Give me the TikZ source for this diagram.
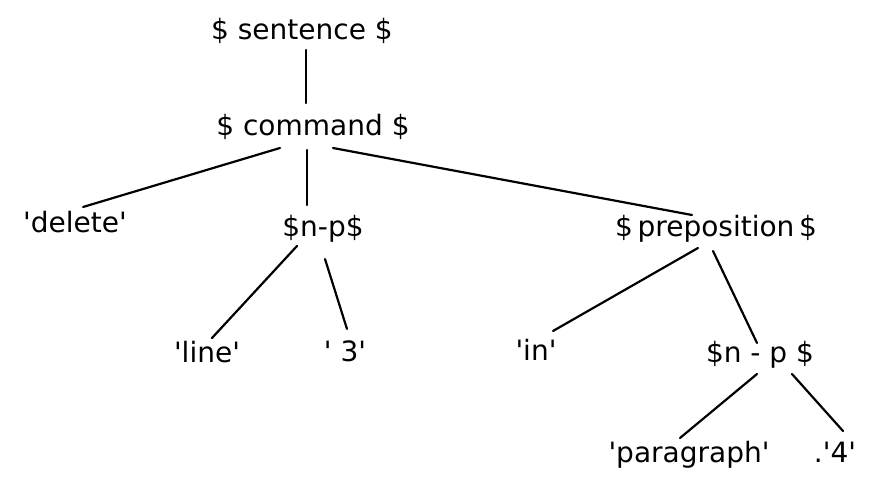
\documentclass[tikz,border=0pt]{standalone}
\usepackage{fontspec}
\newfontfamily\hand{DejaVu Sans}
\newcommand\q{\textquotesingle}
\begin{document}
\begin{tikzpicture}[x=1pt,y=-1pt,
  lbl/.style={font=\hand\fontsize{28}{32}\selectfont, inner sep=0pt, anchor=center},
  conn/.style={line width=2.2pt, line cap=round}]
\useasboundingbox (0,0) rectangle (870,492);
\node[lbl] (sent)  at (302,31)  {\$ sentence \$};
\node[lbl] (cmd)   at (313,127) {\$ command \$};
\node[lbl] (del)   at (75,222)  {\q delete\q};
\node[lbl] (np1)   at (323,229) {\$n-p\$};
\node[lbl] (prep)  at (716,229) {\$\,preposition\,\$};
\node[lbl] (line)  at (207,352) {\q line\q};
\node[lbl] (three) at (345,351) {\q\ 3\q};
\node[lbl] (in)    at (536,350) {\q in\q};
\node[lbl] (np2)   at (760,355) {\$n - p \$};
\node[lbl] (para)  at (689,455) {\q paragraph\q};
\node[lbl] (four)  at (835,452) {.\q 4\q};

\draw[conn] ([shift={(4,19)}]sent.center)  -- ([shift={(-7,-24)}]cmd.center);
\draw[conn] ([shift={(-33,21)}]cmd.center) -- ([shift={(8,-15)}]del.center);
\draw[conn] ([shift={(-6,23)}]cmd.center)  -- ([shift={(-16,-24)}]np1.center);
\draw[conn] ([shift={(20,21)}]cmd.center)  -- ([shift={(-24,-14)}]prep.center);
\draw[conn] ([shift={(-26,17)}]np1.center) -- ([shift={(5,-14)}]line.center);
\draw[conn] ([shift={(2,30)}]np1.center)   -- ([shift={(2,-22)}]three.center);
\draw[conn] ([shift={(-18,19)}]prep.center) -- ([shift={(17,-19)}]in.center);
\draw[conn] ([shift={(-3,22)}]prep.center) -- ([shift={(-3,-12)}]np2.center);
\draw[conn] ([shift={(-3,19)}]np2.center)  -- ([shift={(-9,-17)}]para.center);
\draw[conn] ([shift={(32,19)}]np2.center)  -- ([shift={(8,-21)}]four.center);
\end{tikzpicture}
\end{document}
